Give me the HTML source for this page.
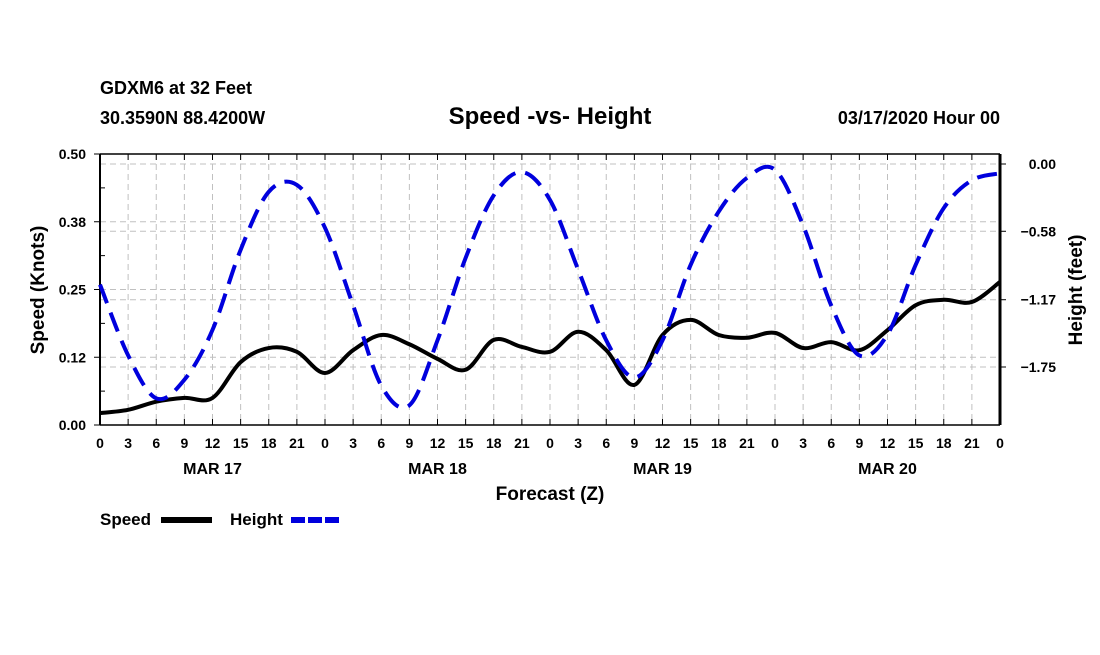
<!DOCTYPE html>
<html><head><meta charset="utf-8"><style>
body{margin:0;background:#fff;}
svg text{font-family:"Liberation Sans",sans-serif;font-weight:bold;fill:#000;}
</style></head><body>
<svg width="1100" height="650" viewBox="0 0 1100 650">
<text x="100" y="94" font-size="18">GDXM6 at 32 Feet</text>
<text x="100" y="124" font-size="18">30.3590N 88.4200W</text>
<text x="550" y="124" font-size="24" text-anchor="middle">Speed -vs- Height</text>
<text x="1000" y="124" font-size="18" text-anchor="end">03/17/2020 Hour 00</text>
<g id="grid"></g>
<g id="axes"></g>
<g id="series"></g>
<text x="550" y="500" font-size="19" text-anchor="middle">Forecast (Z)</text>
<text transform="translate(44,290) rotate(-90)" font-size="19" text-anchor="middle">Speed (Knots)</text>
<text transform="translate(1082,290) rotate(-90)" font-size="19" text-anchor="middle">Height (feet)</text>
<g>
<text x="100" y="525" font-size="17">Speed</text>
<line x1="161" y1="520" x2="212" y2="520" stroke="#000" stroke-width="6"/>
<text x="230" y="525" font-size="17">Height</text>
<line x1="291" y1="520" x2="342" y2="520" stroke="#0000dd" stroke-width="6" stroke-dasharray="14,3"/>
</g>
</svg>
<script>
const hours=[0,3,6,9,12,15,18,21,24,27,30,33,36,39,42,45,48,51,54,57,60,63,66,69,72,75,78,81,84,87,90,93,96];
const speedVals=[0.022,0.028,0.043,0.050,0.050,0.116,0.142,0.135,0.096,0.138,0.166,0.149,0.122,0.102,0.157,0.144,0.135,0.172,0.138,0.074,0.166,0.194,0.166,0.161,0.170,0.142,0.153,0.138,0.175,0.221,0.231,0.227,0.264];
const heightVals=[-1.04,-1.65,-2.02,-1.86,-1.43,-0.74,-0.24,-0.18,-0.55,-1.22,-1.91,-2.08,-1.52,-0.81,-0.27,-0.07,-0.31,-0.91,-1.52,-1.84,-1.52,-0.87,-0.41,-0.12,-0.05,-0.53,-1.22,-1.65,-1.47,-0.87,-0.38,-0.14,-0.08];
const leftTicks=[0,0.125,0.25,0.375,0.5];
const leftLabels=["0.00","0.12","0.25","0.38","0.50"];
const rightTicks=[0,-0.58,-1.17,-1.75];
const rightLabels=["0.00","-0.58","-1.17","-1.75"];
const dayLabels=["MAR 17","MAR 18","MAR 19","MAR 20"];
const NS="http://www.w3.org/2000/svg";
const X0=100,X1=1000,Y0=425,Y1=154;
const xS=h=>X0+(h/96)*(X1-X0);
const yL=v=>Y0-(v/0.5)*(Y0-Y1);
const yR=v=>164+(v/-1.75)*(367-164);
function mk(tag,attrs,parent){const e=document.createElementNS(NS,tag);for(const k in attrs)e.setAttribute(k,attrs[k]);parent.appendChild(e);return e;}
const grid=document.getElementById('grid'),axes=document.getElementById('axes'),ser=document.getElementById('series');
for(let h=3;h<96;h+=3){const l=mk('line',{x1:xS(h),x2:xS(h),y1:Y1,y2:Y0,stroke:'#c0c0c0','stroke-width':1,'stroke-dasharray':'6,4'},grid);

}
leftTicks.forEach(v=>{if(v>0&&v<0.5){const l=mk('line',{x1:X0,x2:X1,y1:yL(v),y2:yL(v),stroke:'#c0c0c0','stroke-dasharray':'6,4'},grid);

}});
rightTicks.forEach(v=>{const l=mk('line',{x1:X0,x2:X1,y1:yR(v),y2:yR(v),stroke:'#c0c0c0','stroke-dasharray':'6,4'},grid);

});
const fr=mk('path',{d:`M${X0},${Y1}H${X1}M${X0},${Y0}H${X1}`,stroke:'#000','stroke-width':1.5,fill:'none'},axes);


const la=mk('line',{x1:X0,x2:X0,y1:Y1,y2:Y0,stroke:'#000','stroke-width':2},axes);


const ra=mk('line',{x1:X1,x2:X1,y1:Y1,y2:Y0,stroke:'#000','stroke-width':3},axes);


for(let h=0;h<=96;h+=3){
 mk('line',{x1:xS(h),x2:xS(h),y1:Y0,y2:Y0-6,stroke:'#000'},axes);
 mk('line',{x1:xS(h),x2:xS(h),y1:Y1,y2:Y1+6,stroke:'#000'},axes);
 const t=mk('text',{x:xS(h),y:448,'font-size':14,'text-anchor':'middle'},axes);t.textContent=String(h%24);
 
 
}
dayLabels.forEach((d,i)=>{const t=mk('text',{x:xS(i*24+12),y:474,'font-size':16,'text-anchor':'middle'},axes);t.textContent=d;

});
leftTicks.forEach((v,i)=>{mk('line',{x1:X0-6,x2:X0,y1:yL(v),y2:yL(v),stroke:'#000'},axes);
 const t=mk('text',{x:86,y:yL(v)+5,'font-size':14,'text-anchor':'end'},axes);t.textContent=leftLabels[i];
 
 });
for(let k=1;k<8;k+=2){const v=k*0.0625;mk('line',{x1:X0,x2:X0+5,y1:yL(v),y2:yL(v),stroke:'#000'},axes);}
rightTicks.forEach((v,i)=>{mk('line',{x1:X1,x2:X1+6,y1:yR(v),y2:yR(v),stroke:'#000'},axes);
 const t=mk('text',{x:1056,y:yR(v)+5,'font-size':14,'text-anchor':'end'},axes);t.textContent=rightLabels[i].replace('-','\u2212');
 
 });
function smooth(pts){let d=`M${pts[0][0]},${pts[0][1]}`;for(let i=0;i<pts.length-1;i++){const p0=pts[i-1]||pts[i],p1=pts[i],p2=pts[i+1],p3=pts[i+2]||p2;
 d+=` C${p1[0]+(p2[0]-p0[0])/6},${p1[1]+(p2[1]-p0[1])/6} ${p2[0]-(p3[0]-p1[0])/6},${p2[1]-(p3[1]-p1[1])/6} ${p2[0]},${p2[1]}`;}return d;}
const sp=mk('path',{d:smooth(hours.map((h,i)=>[xS(h),yL(speedVals[i])])),stroke:'#000','stroke-width':4,fill:'none'},ser);


const hp=mk('path',{d:smooth(hours.map((h,i)=>[xS(h),yR(heightVals[i])])),stroke:'#0000dd','stroke-width':4,fill:'none','stroke-dasharray':'20,10'},ser);


</script>
</body></html>
